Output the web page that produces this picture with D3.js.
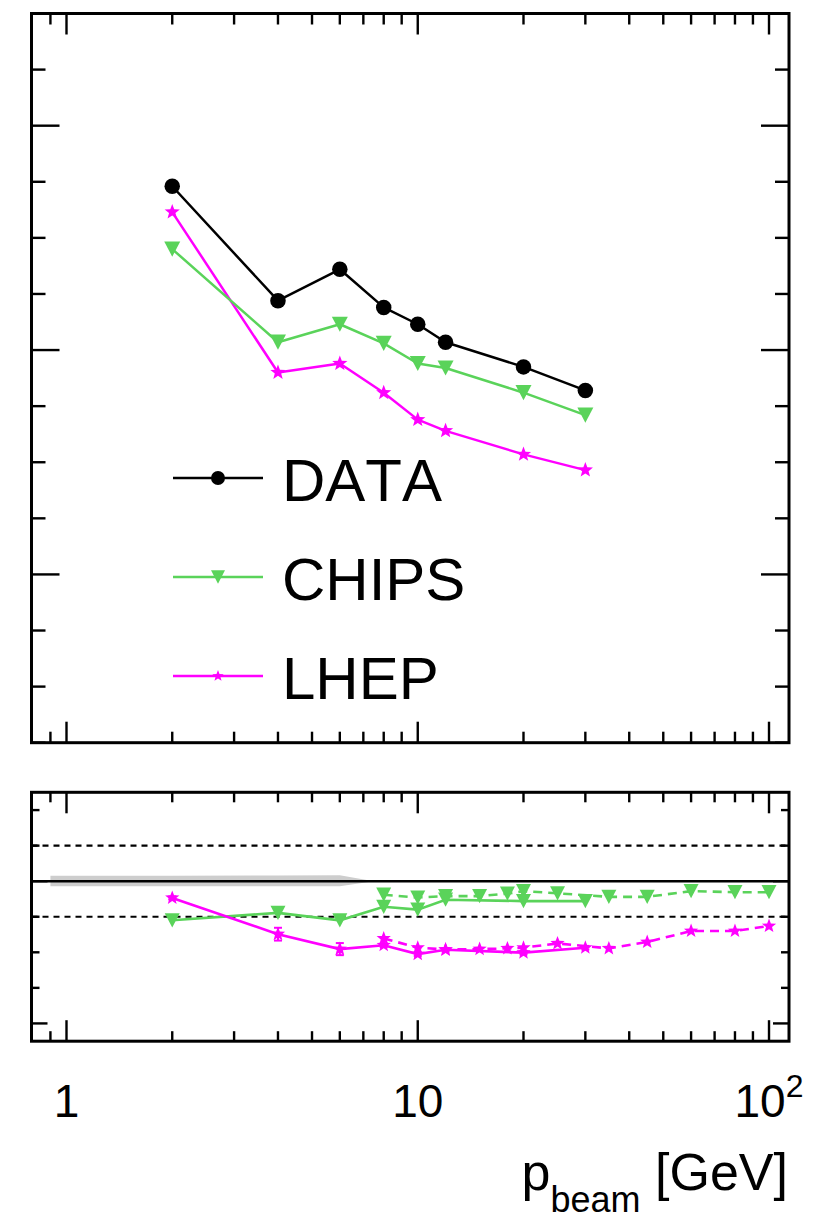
<!DOCTYPE html>
<html>
<head>
<meta charset="utf-8">
<script src="https://cdn.jsdelivr.net/npm/d3@7"></script>
<style>
  html, body { margin: 0; padding: 0; background: #ffffff; }
  svg { display: block; }
  text { font-family: "Liberation Sans", Arial, Helvetica, sans-serif; fill: #000; font-kerning: none; }
</style>
</head>
<body>
<svg id="chart" width="816" height="1222"></svg>
<script>
// ---- measured points (beam momentum in GeV/c) ----
const momenta     = [2, 4, 6, 8, 10, 12, 20, 30];
const dataValues  = [0.546, 0.444, 0.472, 0.438, 0.423, 0.407, 0.385, 0.364];
const chipsValues = [0.490, 0.407, 0.423, 0.406, 0.388, 0.384, 0.362, 0.342];
const lhepValues  = [0.523, 0.380, 0.388, 0.362, 0.338, 0.328, 0.307, 0.293];

// ---- model / data ratios at the measured momenta ----
const chipsRatio   = [0.890, 0.911, 0.890, 0.928, 0.920, 0.948, 0.944, 0.944];
const lhepRatio    = [0.953, 0.851, 0.809, 0.820, 0.795, 0.807, 0.799, 0.813];
const lhepRatioErr = [0.004, 0.018, 0.017, 0.005, 0.005, 0.005, 0.005, 0.005];

// ---- model / reference ratios over the extended momentum range ----
const extMomenta    = [8, 10, 12, 15, 18, 20, 25, 35, 45, 60, 80, 100];
const chipsRatioExt = [0.962, 0.954, 0.958, 0.958, 0.965, 0.972, 0.966, 0.956, 0.956, 0.972, 0.969, 0.969];
const lhepRatioExt  = [0.839, 0.813, 0.808, 0.809, 0.811, 0.813, 0.825, 0.811, 0.829, 0.860, 0.860, 0.874];

// ---- relative uncertainty band of the data ----
const bandMomenta = [0.9, 2, 4, 6, 7.5];
const bandLow     = [0.986, 0.986, 0.986, 0.986, 1.0];
const bandHigh    = [1.015, 1.015, 1.016, 1.017, 1.0];

// ---- axis tick labels and legend ----
const xTickValues = [1, 10, 100];
const xTickBase   = ["1", "10", "10"];
const xTickExp    = ["", "", "2"];
const seriesNames = ["DATA", "CHIPS", "LHEP"];
const refLines    = [1.1, 0.9];

const GREEN = "#5ad35a";
const MAGENTA = "#ff00ff";

const svg = d3.select("#chart");

const left = 31.5, right = 789;
const topPanel = { y0: 13.5, y1: 742.7 };
const botPanel = { y0: 792.3, y1: 1041.2 };

const x = d3.scaleLog().domain([0.795, 114]).range([left, right]);
const yTop = d3.scaleLinear().domain([0.05, 0.70]).range([topPanel.y1, topPanel.y0]);
const yBot = d3.scaleLinear().domain([0.55, 1.25]).range([botPanel.y1, botPanel.y0]);

// marker shapes
function starPath(R) {
  const r = R * 0.42;
  const pts = [];
  for (let i = 0; i < 10; i++) {
    const a = -Math.PI / 2 + i * Math.PI / 5;
    const rad = i % 2 === 0 ? R : r;
    pts.push([rad * Math.cos(a), rad * Math.sin(a)]);
  }
  return "M" + pts.map(p => p[0].toFixed(2) + "," + p[1].toFixed(2)).join("L") + "Z";
}
function triDownPath(w) {
  const h = w * 0.95;
  return `M${-w / 2},${-h / 2}L${w / 2},${-h / 2}L0,${h / 2}Z`;
}

const isDecade = v => Math.abs(Math.log10(v) - Math.round(Math.log10(v))) < 1e-9;
const xTicks = x.ticks().filter(v => v > 0.8);

function drawXTicks(panel, majorLen, minorLen) {
  const g = svg.append("g").attr("stroke", "#000").attr("stroke-width", 2.4);
  xTicks.forEach(v => {
    const len = isDecade(v) ? majorLen : minorLen;
    const px = x(v);
    g.append("line").attr("x1", px).attr("x2", px).attr("y1", panel.y1).attr("y2", panel.y1 - len);
    g.append("line").attr("x1", px).attr("x2", px).attr("y1", panel.y0).attr("y2", panel.y0 + len);
  });
}
function drawYTicks(scale, values, isMajor, majorLen, minorLen) {
  const g = svg.append("g").attr("stroke", "#000").attr("stroke-width", 2.4);
  values.forEach(v => {
    const len = isMajor(v) ? majorLen : minorLen;
    const py = scale(v);
    g.append("line").attr("x1", left).attr("x2", left + len).attr("y1", py).attr("y2", py);
    g.append("line").attr("x1", right).attr("x2", right - len).attr("y1", py).attr("y2", py);
  });
}

// ================= upper panel =================
drawXTicks(topPanel, 21, 11);
const topYTicks = d3.range(1, 14).map(i => +(i * 0.05).toFixed(2));
drawYTicks(yTop, topYTicks, v => Math.round(v * 100) % 20 === 0, 28, 14);

const lineTop = s => d3.line().x((d, i) => x(momenta[i])).y(d => yTop(d))(s);

const topSeries = [
  { vals: dataValues, color: "#000", marker: "circle" },
  { vals: chipsValues, color: GREEN, marker: "tri" },
  { vals: lhepValues, color: MAGENTA, marker: "star" }
];

function drawMarker(g, marker, color, cx, cy, size) {
  if (marker === "circle") {
    g.append("circle").attr("cx", cx).attr("cy", cy).attr("r", size / 2).attr("fill", color);
  } else if (marker === "tri") {
    g.append("path").attr("d", triDownPath(size)).attr("transform", `translate(${cx},${cy})`).attr("fill", color);
  } else {
    g.append("path").attr("d", starPath(size / 2)).attr("transform", `translate(${cx},${cy})`).attr("fill", color);
  }
}

[2, 1, 0].forEach(k => {
  const s = topSeries[k];
  const g = svg.append("g");
  g.append("path").attr("d", lineTop(s.vals)).attr("fill", "none")
    .attr("stroke", s.color).attr("stroke-width", 2.5).attr("stroke-linejoin", "round");
  s.vals.forEach((v, i) => drawMarker(g, s.marker, s.color, x(momenta[i]), yTop(v), s.marker === "circle" ? 15.5 : 16));
});

// legend
const legendRows = [478, 577, 676];
seriesNames.forEach((name, i) => {
  const s = topSeries[i];
  const g = svg.append("g");
  g.append("line").attr("x1", 173).attr("x2", 263).attr("y1", legendRows[i]).attr("y2", legendRows[i])
    .attr("stroke", s.color).attr("stroke-width", 2.5);
  drawMarker(g, s.marker, s.color, 218, legendRows[i], s.marker === "star" ? 12 : 14);
  g.append("text").attr("x", 282).attr("y", legendRows[i] + 23).attr("font-size", 60).text(name);
});

// ================= lower panel =================
// data uncertainty band
svg.append("path")
  .datum(bandMomenta)
  .attr("d", d3.area().x(d => x(d)).y0((d, i) => yBot(bandLow[i])).y1((d, i) => yBot(bandHigh[i])))
  .attr("fill", "#cdcdcd");

drawXTicks(botPanel, 21, 10);
const botYTicks = d3.range(6, 13).map(i => +(i * 0.1).toFixed(1));
drawYTicks(yBot, botYTicks, v => Math.round(v * 10) % 4 === 2, 16, 8);

// unity and +-10 % reference lines
svg.append("line").attr("x1", left).attr("x2", right).attr("y1", yBot(1)).attr("y2", yBot(1))
  .attr("stroke", "#000").attr("stroke-width", 2.5);
refLines.forEach(v => {
  svg.append("line").attr("x1", left).attr("x2", right).attr("y1", yBot(v)).attr("y2", yBot(v))
    .attr("stroke", "#000").attr("stroke-width", 2.2).attr("stroke-dasharray", "6,5");
});

function ratioSeries(xs, ys, color, marker, dashed, errs) {
  const g = svg.append("g");
  g.append("path")
    .attr("d", d3.line().x((d, i) => x(xs[i])).y(d => yBot(d))(ys))
    .attr("fill", "none").attr("stroke", color).attr("stroke-width", 2.6)
    .attr("stroke-dasharray", dashed ? "9,6" : null);
  if (errs) {
    ys.forEach((v, i) => {
      const px = x(xs[i]);
      const lo = yBot(v - errs[i]), hi = yBot(v + errs[i]);
      g.append("line").attr("x1", px).attr("x2", px).attr("y1", lo).attr("y2", hi)
        .attr("stroke", color).attr("stroke-width", 2);
      [lo, hi].forEach(py => g.append("line").attr("x1", px - 4).attr("x2", px + 4)
        .attr("y1", py).attr("y2", py).attr("stroke", color).attr("stroke-width", 2));
    });
  }
  ys.forEach((v, i) => drawMarker(g, marker, color, x(xs[i]), yBot(v), 15));
}

ratioSeries(extMomenta, chipsRatioExt, GREEN, "tri", true, null);
ratioSeries(momenta, chipsRatio, GREEN, "tri", false, null);
ratioSeries(extMomenta, lhepRatioExt, MAGENTA, "star", true, null);
ratioSeries(momenta, lhepRatio, MAGENTA, "star", false, lhepRatioErr);

// ================= frames =================
[topPanel, botPanel].forEach(p => {
  svg.append("rect").attr("x", left).attr("y", p.y0).attr("width", right - left).attr("height", p.y1 - p.y0)
    .attr("fill", "none").attr("stroke", "#000").attr("stroke-width", 3);
});

// x tick labels
xTickValues.forEach((v, i) => {
  const t = svg.append("text").attr("x", x(v)).attr("y", 1117).attr("font-size", 46)
    .attr("text-anchor", "middle");
  t.append("tspan").text(xTickBase[i]);
  if (xTickExp[i]) t.append("tspan").attr("dy", -20).attr("font-size", 32).text(xTickExp[i]);
});

// axis title
const title = svg.append("text").attr("x", 788).attr("y", 1190).attr("font-size", 52).attr("text-anchor", "end");
title.append("tspan").text("p");
title.append("tspan").attr("dy", 22).attr("font-size", 36).text("beam");
title.append("tspan").attr("dy", -22).text(" [GeV]");
</script>
</body>
</html>
